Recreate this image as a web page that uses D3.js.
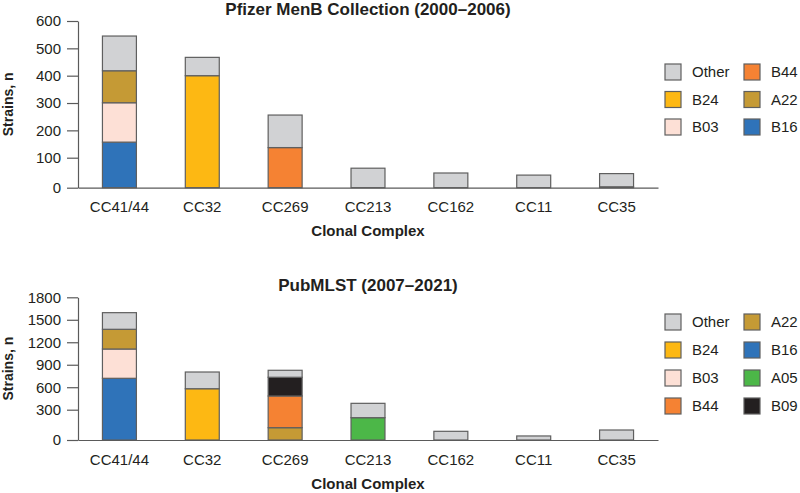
<!DOCTYPE html>
<html>
<head>
<meta charset="utf-8">
<script src="https://cdn.jsdelivr.net/npm/d3@7"></script>
<style>
  html, body { margin: 0; padding: 0; background: #fff; }
  svg { display: block; font-family: "Liberation Sans", Arial, sans-serif; }
</style>
</head>
<body>
<svg id="chart" width="800" height="493"></svg>
<script>
// ---------- data ----------
const categories = ["CC41/44", "CC32", "CC269", "CC213", "CC162", "CC11", "CC35"];

// Panel 1: Pfizer MenB Collection (2000–2006)
const topTitle = "Pfizer MenB Collection (2000\u20132006)";
const topTicks = [0, 100, 200, 300, 400, 500, 600];
const topB16   = [157, 0, 0, 0, 0, 0, 0];
const topB03   = [144, 0, 0, 0, 0, 0, 0];
const topA22   = [117, 0, 0, 0, 0, 0, 3];
const topB44   = [0, 0, 137, 0, 0, 0, 0];
const topB24   = [0, 400, 0, 0, 0, 0, 0];
const topOther = [127, 67, 119, 65, 49, 42, 44];
const topLegendCol1 = ["Other", "B24", "B03"];
const topLegendCol2 = ["B44", "A22", "B16"];

// Panel 2: PubMLST (2007–2021)
const botTitle = "PubMLST (2007\u20132021)";
const botTicks = [0, 300, 600, 900, 1200, 1500, 1800];
const botB16   = [719, 0, 0, 0, 0, 0, 0];
const botB03   = [391, 0, 0, 0, 0, 0, 0];
const botA22   = [263, 0, 122, 0, 0, 0, 0];
const botB44   = [0, 0, 361, 0, 0, 0, 0];
const botB09   = [0, 0, 250, 0, 0, 0, 0];
const botA05   = [0, 0, 0, 221, 0, 0, 0];
const botB24   = [0, 580, 0, 0, 0, 0, 0];
const botOther = [222, 223, 93, 164, 86, 40, 99];
const botLegendCol1 = ["Other", "B24", "B03", "B44"];
const botLegendCol2 = ["A22", "B16", "A05", "B09"];

const colors = {
  Other: "#d1d2d4", B24: "#fdb813", B03: "#fde0d6", B44: "#f58233",
  A22: "#c59a35", B16: "#2f73b9", A05: "#4cb748", B09: "#231f20"
};

// ---------- drawing ----------
const svg = d3.select("#chart");
const textColor = "#231f20";
const axisColor = "#5a5a5a";

function panel(opts) {
  const g = svg.append("g");
  const rows = categories.map((c, i) => {
    const r = { cat: c };
    opts.keys.forEach(k => r[k] = opts.series[k][i]);
    return r;
  });
  const stacked = d3.stack().keys(opts.keys)(rows);

  const x = d3.scaleBand().domain(categories).range([78, 658])
    .paddingInner(0.59).paddingOuter(0.295);
  const y = d3.scaleLinear().domain(opts.yDomain).range(opts.yRange);

  // bars
  stacked.forEach(layer => {
    g.append("g").selectAll("rect")
      .data(layer.filter(d => d[1] - d[0] > 0))
      .join("rect")
      .attr("x", d => x(d.data.cat))
      .attr("width", x.bandwidth())
      .attr("y", d => y(d[1]))
      .attr("height", d => y(d[0]) - y(d[1]))
      .attr("fill", colors[layer.key])
      .attr("stroke", "#5f5f5f")
      .attr("stroke-width", 1.2);
  });

  // y axis
  const yAxis = g.append("g").attr("transform", "translate(78,0)")
    .call(d3.axisLeft(y).tickValues(opts.ticks).tickFormat(d3.format("d"))
      .tickSize(11).tickSizeOuter(0).tickPadding(6));
  yAxis.select(".domain").attr("stroke", axisColor).attr("stroke-width", 1.2);
  yAxis.selectAll(".tick line").attr("stroke", axisColor).attr("stroke-width", 1.2);
  yAxis.selectAll("text").attr("font-size", 15).attr("fill", textColor)
    .attr("font-family", "Liberation Sans, Arial, sans-serif");

  // x axis
  const xAxis = g.append("g").attr("transform", `translate(0,${opts.yRange[0]})`)
    .call(d3.axisBottom(x).tickSize(0).tickSizeOuter(0).tickPadding(14));
  xAxis.select(".domain").attr("stroke", axisColor).attr("stroke-width", 1.2);
  xAxis.selectAll("text").attr("font-size", 15).attr("fill", textColor)
    .attr("font-family", "Liberation Sans, Arial, sans-serif");

  // title
  g.append("text").attr("x", 368).attr("y", opts.titleY)
    .attr("text-anchor", "middle").attr("font-size", 17).attr("font-weight", "bold")
    .attr("fill", textColor).text(opts.title);
  // x label
  g.append("text").attr("x", 368).attr("y", opts.xLabelY)
    .attr("text-anchor", "middle").attr("font-size", 15).attr("font-weight", "bold")
    .attr("fill", textColor).text("Clonal Complex");
  // y label
  const ymid = (opts.yRange[0] + opts.yRange[opts.yRange.length - 1]) / 2;
  g.append("text").attr("transform", `translate(13,${ymid}) rotate(-90)`)
    .attr("text-anchor", "middle").attr("font-size", 14).attr("font-weight", "bold")
    .attr("fill", textColor).text("Strains, n");

  // legend
  const cols = [opts.legend1, opts.legend2];
  const colX = [665, 744];
  cols.forEach((col, ci) => {
    col.forEach((k, ri) => {
      const cy = opts.legendY + ri * opts.legendStep;
      g.append("rect").attr("x", colX[ci]).attr("y", cy - 8)
        .attr("width", 16).attr("height", 16)
        .attr("fill", colors[k]).attr("stroke", "#5f5f5f").attr("stroke-width", 1.2);
      g.append("text").attr("x", colX[ci] + 27).attr("y", cy)
        .attr("dy", "0.36em").attr("font-size", 15).attr("fill", textColor).text(k);
    });
  });
}

panel({
  title: topTitle, titleY: 15, xLabelY: 236,
  keys: ["B16", "B03", "A22", "B44", "B24", "Other"],
  series: { B16: topB16, B03: topB03, A22: topA22, B44: topB44, B24: topB24, Other: topOther },
  yDomain: [0, 100, 600], yRange: [187.7, 157.7, 21],
  ticks: topTicks,
  legend1: topLegendCol1, legend2: topLegendCol2, legendY: 72, legendStep: 27.5
});

panel({
  title: botTitle, titleY: 291, xLabelY: 489,
  keys: ["B16", "B03", "A22", "B44", "B09", "A05", "B24", "Other"],
  series: { B16: botB16, B03: botB03, A22: botA22, B44: botB44, B09: botB09, A05: botA05, B24: botB24, Other: botOther },
  yDomain: [0, 300, 1800], yRange: [440, 409.7, 297.3],
  ticks: botTicks,
  legend1: botLegendCol1, legend2: botLegendCol2, legendY: 322, legendStep: 28
});
</script>
</body>
</html>
